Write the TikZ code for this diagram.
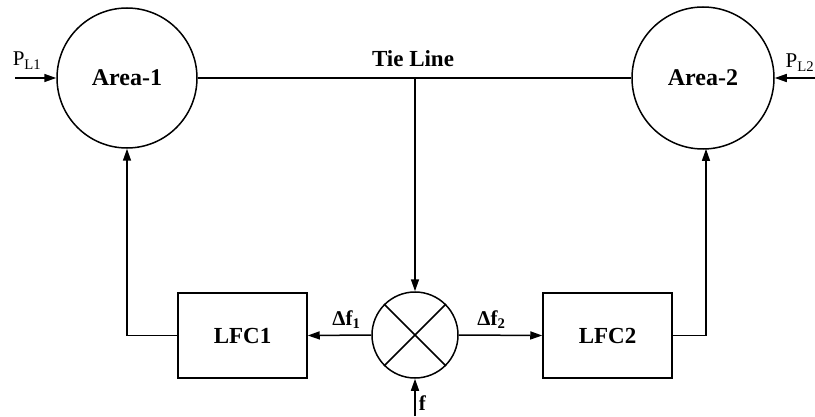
\documentclass[tikz,border=0pt]{standalone}
\usepackage{fontspec}
\setmainfont{Liberation Serif}
\usetikzlibrary{arrows.meta,calc}
\begin{document}
\begin{tikzpicture}[x=1pt,y=1pt,
  line width=1.5pt,
  arr/.style={-{Triangle[length=12pt,width=8pt]}},
  area/.style={draw,circle,inner sep=0pt,font=\fontsize{24}{28}\selectfont\bfseries},
  lfc/.style={draw,rectangle,minimum width=129pt,minimum height=85pt,inner sep=0pt,font=\fontsize{23}{27}\selectfont\bfseries},
  lbl/.style={inner sep=0pt,font=\fontsize{23}{27}\selectfont\bfseries},
  dlbl/.style={inner sep=0pt,font=\fontsize{21}{25}\selectfont\bfseries},
  plbl/.style={inner sep=0pt,font=\fontsize{21}{24}\selectfont}]
\useasboundingbox (0,0) rectangle (815,416);
\node[area,minimum size=140pt] (A1) at (127,338) {Area-1};
\node[area,minimum size=142pt] (A2) at (703,338) {Area-2};
\node[lfc] (L1) at (242.5,80.5) {LFC1};
\node[lfc] (L2) at (607.5,80.5) {LFC2};
\node[draw,circle,minimum size=86pt,inner sep=0pt] (M) at (415,81) {};
\draw (M.45) -- (M.225);
\draw (M.135) -- (M.315);
\draw (A1.east) -- (A2.west);
\node[lbl,anchor=base] (TL) at (413,349) {Tie Line};
\coordinate (T) at (415,338);
\draw[arr] (T) -- (M.north);
\draw[arr] (M.west) -- node[dlbl,above=6pt,xshift=7pt] (D1) {Δf\textsubscript{1}} (L1.east);
\draw[arr] (M.east) -- node[dlbl,above=6pt,xshift=-9pt] (D2) {Δf\textsubscript{2}} (L2.west);
\coordinate (F) at (415,0);
\draw[arr] (F) -- (M.south);
\node[dlbl,anchor=base west] (FL) at (418,6) {f};
\draw[arr] (L1.west) -| (A1.south);
\coordinate (A2b) at ($(A2.center)+(3,-70.9)$);
\draw[arr] (L2.east) -| (A2b);
\coordinate (P1) at (15,338);
\draw[arr] (P1) -- (A1.west);
\node[plbl,anchor=base west] (P1L) at (12,350) {P\textsubscript{L1}};
\coordinate (P2) at (815,338);
\draw[arr] (P2) -- (A2.east);
\node[plbl,anchor=base east] (P2L) at (815,348) {P\textsubscript{L2}};
\end{tikzpicture}
\end{document}
